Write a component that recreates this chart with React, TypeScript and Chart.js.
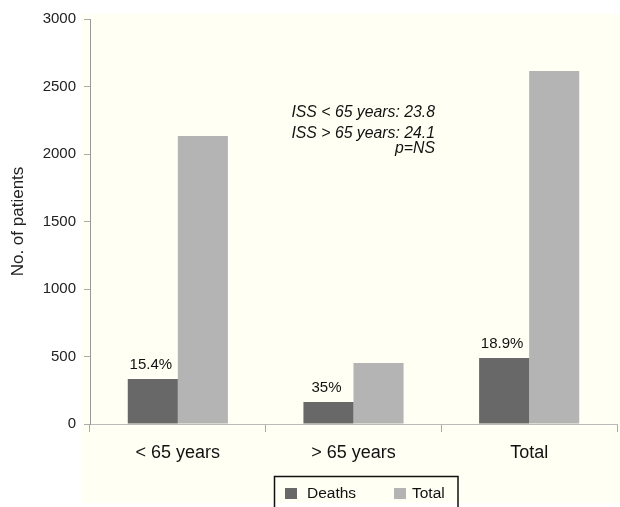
import React, { useEffect, useRef } from "react";
import { Chart, registerables } from "chart.js";

Chart.register(...registerables);

const categories = ["< 65 years", "> 65 years", "Total"];
const deaths = [333, 163, 489];
const totals = [2134, 452, 2615];
const deathLabels = ["15.4%", "35%", "18.9%"];
const yTicks = [0, 500, 1000, 1500, 2000, 2500, 3000];
const annotationLines = ["ISS < 65 years: 23.8", "ISS > 65 years: 24.1", "p=NS"];
const legendLabels = ["Deaths", "Total"];

const DEATH_COLOR = "#686868";
const TOTAL_COLOR = "#b4b4b4";
const CREAM = "#fffff3";
const FONT = "'Liberation Sans', Arial, Helvetica, sans-serif";

export default function App() {
  const ref = useRef<HTMLCanvasElement | null>(null);

  useEffect(() => {
    document.body.style.margin = "0";
    const canvas = ref.current;
    if (!canvas) return;

    const decor = {
      id: "decor",
      beforeDraw(chart: any) {
        const ctx = chart.ctx;
        ctx.save();
        ctx.fillStyle = "#ffffff";
        ctx.fillRect(0, 0, chart.width, chart.height);
        ctx.fillStyle = CREAM;
        ctx.fillRect(82, 14, chart.width - 82, 489);
        ctx.restore();
      },
      afterDatasetsDraw(chart: any) {
        const ctx = chart.ctx;
        ctx.save();
        // labels above death bars
        const meta = chart.getDatasetMeta(0);
        ctx.fillStyle = "#111";
        ctx.font = `15px ${FONT}`;
        ctx.textAlign = "center";
        ctx.textBaseline = "alphabetic";
        meta.data.forEach((bar: any, i: number) => {
          ctx.fillText(deathLabels[i], bar.x - 2, bar.y - 10);
        });
        // annotation
        ctx.font = `italic 15.8px ${FONT}`;
        ctx.textAlign = "right";
        const baselines = [116.5, 138, 153];
        annotationLines.forEach((t, i) => {
          ctx.fillText(t, 435, baselines[i]);
        });
        // legend
        ctx.strokeStyle = "#111";
        ctx.lineWidth = 1.5;
        ctx.strokeRect(274.5, 476.5, 183.5, 60);
        ctx.fillStyle = DEATH_COLOR;
        ctx.fillRect(285, 488, 12, 11);
        ctx.fillStyle = TOTAL_COLOR;
        ctx.fillRect(394, 488, 12, 11);
        ctx.fillStyle = "#111";
        ctx.font = `15.5px ${FONT}`;
        ctx.textAlign = "left";
        ctx.textBaseline = "middle";
        ctx.fillText(legendLabels[0], 307, 494);
        ctx.fillText(legendLabels[1], 412, 494);
        ctx.restore();
      },
    };

    const chart = new Chart(canvas, {
      type: "bar",
      data: {
        labels: categories,
        datasets: [
          {
            label: legendLabels[0],
            data: deaths,
            backgroundColor: DEATH_COLOR,
            categoryPercentage: 0.57,
            barPercentage: 1,
          },
          {
            label: legendLabels[1],
            data: totals,
            backgroundColor: TOTAL_COLOR,
            categoryPercentage: 0.57,
            barPercentage: 1,
          },
        ],
      },
      options: {
        responsive: false,
        animation: false,
        layout: { padding: { top: 19, right: 3, left: 0, bottom: 0 } },
        plugins: {
          legend: { display: false },
          tooltip: { enabled: false },
        },
        scales: {
          x: {
            grid: {
              display: true,
              offset: true,
              drawOnChartArea: false,
              drawTicks: true,
              tickLength: 8,
              color: "#aaaaaa",
            },
            border: { color: "#bbbbbb", width: 1 },
            ticks: {
              font: { family: FONT, size: 18 },
              color: "#111",
              padding: 10,
            },
            afterFit: (s: any) => {
              s.height = 83;
            },
          },
          y: {
            min: 0,
            max: 3000,
            afterBuildTicks: (s: any) => {
              s.ticks = yTicks.map((v) => ({ value: v }));
            },
            grid: {
              display: true,
              drawOnChartArea: false,
              drawTicks: true,
              tickLength: 6,
              color: "#aaaaaa",
            },
            border: { color: "#999999", width: 1 },
            ticks: {
              font: { family: FONT, size: 15 },
              color: "#222",
              padding: 8,
              callback: (v: any) => String(v),
            },
            title: {
              display: true,
              text: "No. of patients",
              font: { family: FONT, size: 17 },
              color: "#222",
              padding: { top: 8, bottom: 0 },
            },
            afterFit: (s: any) => {
              s.width = 90;
            },
          },
        },
      },
      plugins: [decor],
    });

    return () => chart.destroy();
  }, []);

  return <canvas ref={ref} width={620} height={507} style={{ display: "block" }} />;
}
